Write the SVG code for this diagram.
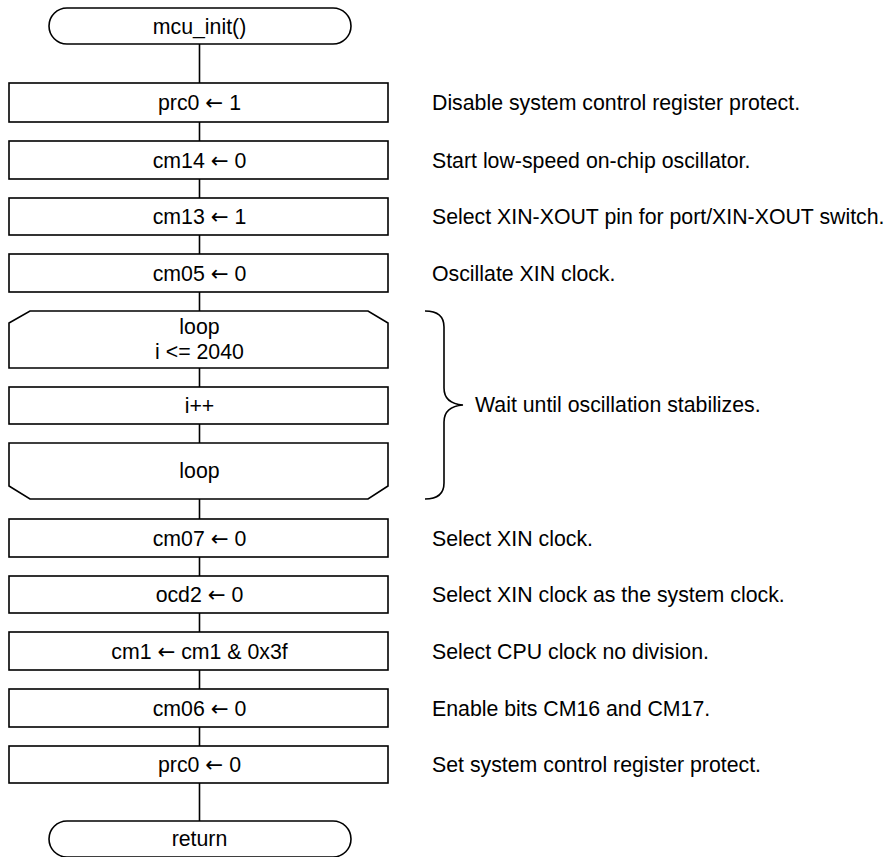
<svg xmlns="http://www.w3.org/2000/svg" width="887" height="857" viewBox="0 0 887 857">
<style>
.s{fill:#fff;stroke:#000;stroke-width:1.6}
.l{fill:none;stroke:#000;stroke-width:1.6}
text{font-family:"Liberation Sans",Arial,sans-serif;font-size:21.3px;fill:#000}
.c{text-anchor:middle}
.a{font-family:"DejaVu Sans",sans-serif}
</style>
<rect width="887" height="857" fill="#fff"/>
<g id="connectors">
<path class="l" d="M199.5 44V83M199.5 122V141M199.5 179V198M199.5 235V254M199.5 292V311M199.5 368V387M199.5 424V443M199.5 499V519M199.5 557V576M199.5 613V632M199.5 670V689M199.5 727V746M199.5 783V821"/>
</g>
<g id="start"><rect class="s" x="49" y="8" width="302" height="36" rx="18"/><text class="c" x="199.5" y="33.5">mcu_init()</text></g>
<g id="n1"><rect class="s" x="9" y="83" width="379" height="39"/><text class="c" x="199.5" y="110">prc0 <tspan class="a">←</tspan> 1</text><text x="432" y="110">Disable system control register protect.</text></g>
<g id="n2"><rect class="s" x="9" y="141" width="379" height="38"/><text class="c" x="199.5" y="167.5">cm14 <tspan class="a">←</tspan> 0</text><text x="432" y="167.5">Start low-speed on-chip oscillator.</text></g>
<g id="n3"><rect class="s" x="9" y="198" width="379" height="37"/><text class="c" x="199.5" y="224">cm13 <tspan class="a">←</tspan> 1</text><text x="432" y="224">Select XIN-XOUT pin for port/XIN-XOUT switch.</text></g>
<g id="n4"><rect class="s" x="9" y="254" width="379" height="38"/><text class="c" x="199.5" y="280.5">cm05 <tspan class="a">←</tspan> 0</text><text x="432" y="280.5">Oscillate XIN clock.</text></g>
<g id="loopStart"><path class="s" d="M30 311H368L388 323V368H9V323Z"/><text class="c" x="199.5" y="334">loop</text><text class="c" x="199.5" y="358.5">i &lt;= 2040</text></g>
<g id="n5"><rect class="s" x="9" y="387" width="379" height="37"/><text class="c" x="199.5" y="413">i++</text></g>
<g id="loopEnd"><path class="s" d="M9 443H388V486L368 499H30L9 486Z"/><text class="c" x="199.5" y="478">loop</text></g>
<g id="brace"><path class="l" d="M425 311C438 311 444 316 444 327V388C444 398 450 404 463 405C450 406 444 412 444 422V483C444 494 438 499 425 499"/><text x="475" y="412">Wait until oscillation stabilizes.</text></g>
<g id="n6"><rect class="s" x="9" y="519" width="379" height="38"/><text class="c" x="199.5" y="545.5">cm07 <tspan class="a">←</tspan> 0</text><text x="432" y="545.5">Select XIN clock.</text></g>
<g id="n7"><rect class="s" x="9" y="576" width="379" height="37"/><text class="c" x="199.5" y="602">ocd2 <tspan class="a">←</tspan> 0</text><text x="432" y="602">Select XIN clock as the system clock.</text></g>
<g id="n8"><rect class="s" x="9" y="632" width="379" height="38"/><text class="c" x="199.5" y="658.5">cm1 <tspan class="a">←</tspan> cm1 &amp; 0x3f</text><text x="432" y="658.5">Select CPU clock no division.</text></g>
<g id="n9"><rect class="s" x="9" y="689" width="379" height="38"/><text class="c" x="199.5" y="715.5">cm06 <tspan class="a">←</tspan> 0</text><text x="432" y="715.5">Enable bits CM16 and CM17.</text></g>
<g id="n10"><rect class="s" x="9" y="746" width="379" height="37"/><text class="c" x="199.5" y="772">prc0 <tspan class="a">←</tspan> 0</text><text x="432" y="772">Set system control register protect.</text></g>
<g id="end"><rect class="s" x="49" y="821" width="302" height="36" rx="18"/><text class="c" x="199.5" y="846">return</text></g>
</svg>
